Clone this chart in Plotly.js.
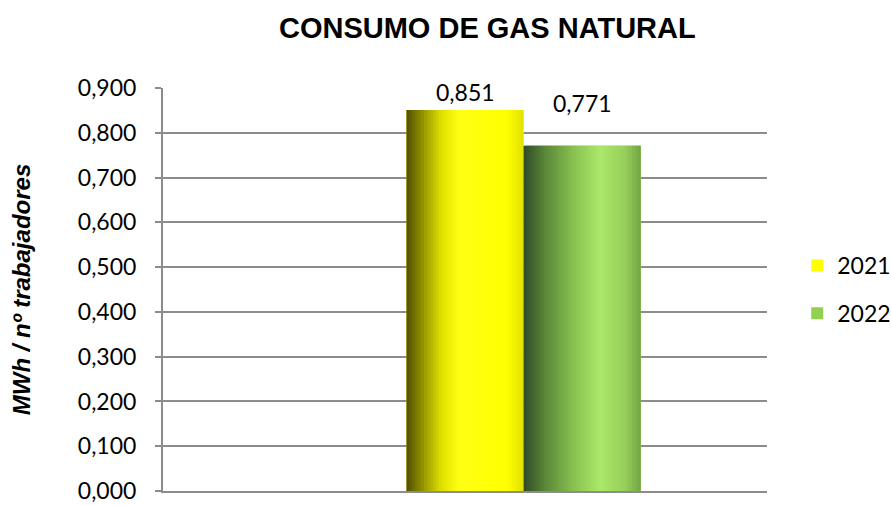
<!DOCTYPE html>
<html>
<head>
<meta charset="utf-8">
<script src="https://cdn.plot.ly/plotly-3.0.1.min.js"></script>
<style>html,body{margin:0;padding:0;background:#fff;}#chart{width:891px;height:505px;}</style>
</head>
<body>
<div id="chart"></div>
<script>
// ---- data ----
const categories = ["Gas natural"];
const seriesNames = ["2021", "2022"];
const values2021 = [0.851];
const values2022 = [0.771];
const chartTitle = "CONSUMO DE GAS NATURAL";
const yAxisTitle = "MWh / nº trabajadores";
const yTickVals = [0, 0.1, 0.2, 0.3, 0.4, 0.5, 0.6, 0.7, 0.8, 0.9];

// ---- styles ----
const baseColors = ["#FFFF00", "#92D050"];
const gradients = [
  [[0, "#4f4f00"], [0.12, "#8a8a00"], [0.3, "#e0e000"], [0.45, "#ffff14"], [0.85, "#ffff00"], [1, "#e2e200"]],
  [[0, "#2f4a26"], [0.18, "#5a8638"], [0.42, "#87c050"], [0.65, "#aae86a"], [0.86, "#98d05a"], [1, "#74a444"]]
];
const barW = 0.194;
const offsets = [-barW / 2, barW / 2];
const labelShift = [18, 43];
const N = 40;

function hexToRgb(h) { h = h.replace('#', ''); return [0, 2, 4].map(i => parseInt(h.substr(i, 2), 16)); }
function colorAt(stops, t) {
  for (let i = 0; i < stops.length - 1; i++) {
    const [p0, c0] = stops[i], [p1, c1] = stops[i + 1];
    if (t >= p0 && t <= p1) {
      const f = (t - p0) / (p1 - p0 || 1);
      const a = hexToRgb(c0), b = hexToRgb(c1);
      const r = a.map((v, k) => Math.round(v + (b[k] - v) * f));
      return `rgb(${r[0]},${r[1]},${r[2]})`;
    }
  }
  return stops[stops.length - 1][1];
}

const allValues = [values2021, values2022];
const traces = [];
allValues.forEach((vals, s) => {
  // base bar (legend entry)
  traces.push({
    type: 'bar', x: categories, y: vals, name: seriesNames[s],
    legendgroup: seriesNames[s], showlegend: true, opacity: 1,
    width: categories.map(() => barW), offset: categories.map(() => offsets[s]),
    marker: { color: baseColors[s], opacity: 1, line: { width: 0 } }, hoverinfo: 'skip'
  });
  // gradient slices
  const step = barW / N;
  for (let i = 0; i < N; i++) {
    const w = (i === N - 1) ? step : step * 1.8;
    traces.push({
      type: 'bar', x: categories, y: vals, name: seriesNames[s],
      legendgroup: seriesNames[s], showlegend: false, opacity: 1,
      width: categories.map(() => w), offset: categories.map(() => offsets[s] + i * step),
      marker: { color: colorAt(gradients[s], (i + 0.5) / N), opacity: 1, line: { width: 0 } }, hoverinfo: 'skip'
    });
  }
});

const annotations = allValues.map((vals, s) => ({
  x: offsets[s] + barW / 2, y: vals[0], xref: 'x', yref: 'y',
  text: vals[0].toFixed(3).replace('.', ','), showarrow: false,
  yanchor: 'middle', yshift: labelShift[s],
  font: { family: 'Lato, "Open Sans", sans-serif', size: 23, color: '#000' }
}));

const layout = {
  width: 891, height: 505,
  margin: { l: 163, r: 124, t: 88, b: 14, pad: 0, autoexpand: false },
  paper_bgcolor: '#fff', plot_bgcolor: '#fff',
  separators: ',.',
  barmode: 'overlay',
  title: {
    text: '<b>' + chartTitle + '</b>', x: 0.537, xref: 'paper', xanchor: 'center',
    y: 1 - 28 / 505, yref: 'container', yanchor: 'middle',
    font: { family: '"Liberation Sans", Arial, sans-serif', size: 29, color: '#000' }
  },
  xaxis: {
    type: 'category', range: [-0.5, 0.5], showticklabels: false, ticks: '',
    showgrid: false, showline: true, linecolor: '#8c8c8c', linewidth: 2, zeroline: false, fixedrange: true
  },
  yaxis: {
    range: [0, 0.9], tickvals: yTickVals, tickformat: '.3f',
    showgrid: true, gridcolor: '#8c8c8c', gridwidth: 2,
    showline: true, linecolor: '#8c8c8c', linewidth: 2,
    ticks: 'outside', ticklen: 6, tickwidth: 2, tickcolor: '#8c8c8c',
    ticklabelstandoff: 14, ticklabeloverflow: 'allow',
    zeroline: false,
    tickfont: { family: 'Lato, "Open Sans", sans-serif', size: 23, color: '#000' },
    title: {
      text: '<b><i>' + yAxisTitle + '</i></b>', standoff: 40,
      font: { family: '"Liberation Sans", Arial, sans-serif', size: 24, color: '#000' }
    }
  },
  legend: {
    x: 1.05, xanchor: 'left', y: 0.5, yanchor: 'middle', tracegroupgap: 15,
    font: { family: 'Lato, "Open Sans", sans-serif', size: 23, color: '#000' },
    bgcolor: 'rgba(0,0,0,0)'
  },
  annotations: annotations,
  showlegend: true
};

Plotly.newPlot('chart', traces, layout, { displayModeBar: false, staticPlot: true });
</script>
</body>
</html>
